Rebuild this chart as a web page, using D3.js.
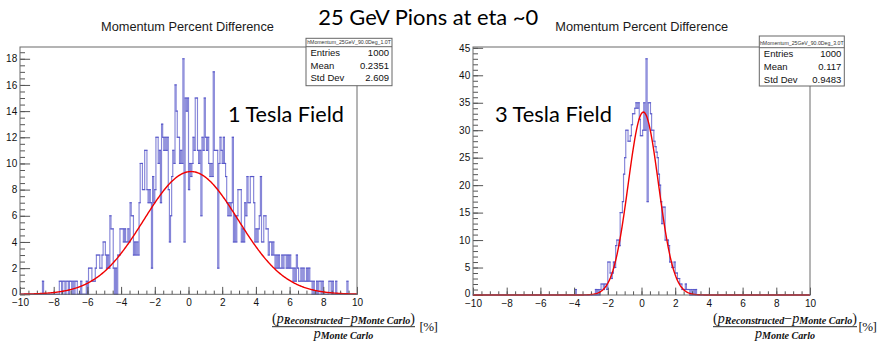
<!DOCTYPE html>
<html>
<head>
<meta charset="utf-8">
<script src="https://cdn.jsdelivr.net/npm/d3@7"></script>
<style>
  html, body { margin: 0; padding: 0; background: #fff; }
  svg { display: block; }
</style>
</head>
<body>
<svg id="chart" width="877" height="341"></svg>
<script>
// ---- data -------------------------------------------------------------
const binCount = 300;
const xDomain = [-10, 10];
const xTickValues = [-10, -8, -6, -4, -2, 0, 2, 4, 6, 8, 10];
const leftYTicks = [0, 2, 4, 6, 8, 10, 12, 14, 16, 18];
const rightYTicks = [0, 5, 10, 15, 20, 25, 30, 35, 40, 45];

// 1 T field, 300 bins over [-10, 10]
const leftCounts = [
  0,0,0,0,0,0,0,0,0,0, 0,0,0,0,0,0,0,0,0,0,
  1,0,0,0,0,0,0,0,0,0, 0,0,0,0,0,1,1,0,1,1,
  0,1,1,0,1,1,0,1,0,1, 1,0,0,0,1,0,0,0,0,1,
  0,2,2,2,1,1,1,2,3,3, 3,2,2,3,4,4,3,2,3,2,
  6,5,5,2,0,2,0,3,3,5, 5,5,4,5,4,4,5,4,7,6,
  6,3,4,3,4,3,7,10,10,8, 8,11,11,8,7,8,7,2,9,7,
  8,12,12,10,11,7,13,12,11,12, 11,12,8,4,6,9,11,10,16,14,
  12,12,10,11,10,18,4,15,14,15, 8,10,9,10,12,11,15,15,11,10,
  11,6,12,11,15,12,11,12,10,9, 10,9,17,11,11,11,2,10,12,11,
  10,12,10,9,7,6,7,6,7,12, 4,6,4,6,8,8,8,4,5,4,
  7,6,9,7,7,9,9,9,7,4, 5,4,5,6,9,4,4,6,6,5,
  5,3,4,4,3,4,3,2,3,2, 3,2,2,3,2,3,3,2,3,2,
  3,2,2,1,2,1,3,2,1,1, 2,1,2,1,1,2,1,2,1,1,
  0,1,0,0,1,0,1,1,0,1, 0,0,0,0,0,1,1,0,1,0,
  0,1,0,0,0,0,0,0,0,0, 0,1,0,0,0,0,0,0,0,0
];

// 3 T field, 300 bins over [-10, 10]
const rightCounts = [
  0,0,0,0,0,0,0,0,0,0, 0,0,0,0,0,0,0,0,0,0,
  0,0,0,0,0,0,0,0,0,0, 0,0,0,0,0,0,0,0,0,0,
  0,0,0,0,0,0,0,0,0,0, 0,0,0,0,0,0,0,0,0,0,
  0,0,0,0,0,0,0,0,0,0, 0,0,0,0,0,0,0,0,0,0,
  0,0,0,0,0,0,0,0,0,0, 0,1,0,0,0,0,0,0,0,0,
  0,0,0,0,0,0,0,0,0,1, 0,1,0,1,2,2,1,2,2,1,
  6,6,4,3,4,6,5,9,10,10, 9,15,15,17,22,25,30,30,28,28,
  29,31,33,33,34,35,34,35,32,29, 29,30,35,30,43,17,35,35,33,30,
  30,28,27,26,25,22,20,17,13,16, 16,10,10,10,9,6,6,5,5,6,
  4,4,3,3,2,2,1,1,1,2, 1,1,1,0,1,0,1,0,1,0,
  0,0,0,0,0,0,0,0,0,0, 0,0,0,0,0,0,0,0,0,0,
  0,0,0,0,0,0,0,0,0,0, 0,0,0,0,0,0,0,0,0,0,
  0,0,0,0,0,0,0,0,0,0, 0,0,0,0,0,0,0,0,0,0,
  0,0,0,0,0,0,0,0,0,0, 0,0,0,0,0,0,0,0,0,0,
  0,0,0,0,0,0,0,0,0,0, 0,0,0,0,0,0,0,0,0,0
];

// Gaussian fit parameters: constant, mean, sigma
const leftFit = [9.38, 0.15, 2.8];
const rightFit = [33.3, 0.11, 0.9];

const statLabels = ["Entries", "Mean", "Std Dev"];
const leftStats = ["1000", "0.2351", "2.609"];
const rightStats = ["1000", "0.117", "0.9483"];
const histNames = ["hMomentum_25GeV_90.0Deg_1.0T", "hMomentum_25GeV_90.0Deg_3.0T"];
const histTitle = "Momentum Percent Difference";
const pageTitle = "25 GeV Pions at eta ~0";
const fieldLabels = ["1 Tesla Field", "3 Tesla Field"];

// ---- layout -----------------------------------------------------------
const svg = d3.select("#chart");
const rootFont = "'Liberation Sans', Arial, sans-serif";
const slideFont = "Lato, 'Open Sans', sans-serif";
const mathFont = "'Liberation Serif', 'DejaVu Serif', serif";

const panels = [
  {
    counts: leftCounts, fit: leftFit, stats: leftStats, name: histNames[0], field: fieldLabels[0],
    frame: { x0: 20, x1: 357, y0: 47, y1: 294.3 }, yMax: 18.9, yTicks: leftYTicks, yMinorStep: 0.5,
    box: { x: 306, y: 38.3, w: 86, sep: 46.7, h: 47.4, rows: [56, 68.8, 81.2] },
    titleX: 187.5, fieldX: 228, fieldY: 122.3, fieldW: 116,
    xlab: { x0: 272, x1: 415, pctX: 419.5 }
  },
  {
    counts: rightCounts, fit: rightFit, stats: rightStats, name: histNames[1], field: fieldLabels[1],
    frame: { x0: 473, x1: 810, y0: 47, y1: 295 }, yMax: 45.15, yTicks: rightYTicks, yMinorStep: 1,
    box: { x: 759.3, y: 36, w: 85, sep: 47.7, h: 50, rows: [56.7, 70, 82.7] },
    titleX: 641.7, fieldX: 495, fieldY: 121.5, fieldW: 117,
    xlab: { x0: 713, x1: 857, pctX: 858.5 }
  }
];

function fitTextWidth(sel, target) {
  const w = sel.node().getComputedTextLength();
  const fs = parseFloat(sel.attr("font-size"));
  sel.attr("font-size", fs * target / w);
}

panels.forEach(p => {
  const g = svg.append("g");
  const f = p.frame;
  const x = d3.scaleLinear().domain(xDomain).range([f.x0, f.x1]);
  const y = d3.scaleLinear().domain([0, p.yMax]).range([f.y1, f.y0]);
  const bw = (xDomain[1] - xDomain[0]) / binCount;

  // histogram outline, drawn as individual step segments so that
  // closely spaced edges build up a darker stroke
  const segs = [];
  let prev = 0;
  p.counts.forEach((c, i) => {
    const lo = xDomain[0] + i * bw;
    segs.push([[lo, prev], [lo, c]]);
    segs.push([[lo, c], [lo + bw, c]]);
    prev = c;
  });
  segs.push([[xDomain[1], prev], [xDomain[1], 0]]);
  g.append("g").selectAll("line")
    .data(segs.filter(s => !(s[0][0] === s[1][0] && s[0][1] === s[1][1])))
    .join("line")
    .attr("x1", d => x(d[0][0])).attr("y1", d => y(d[0][1]))
    .attr("x2", d => x(d[1][0])).attr("y2", d => y(d[1][1]))
    .attr("stroke", "#3a3ac0")
    .attr("stroke-opacity", 0.62)
    .attr("stroke-width", 1.15)
    .attr("stroke-linecap", "square");

  // axes with inward ticks
  const minorX = d3.range(xDomain[0], xDomain[1] + 0.001, 0.5);
  const minorY = d3.range(0, p.yMax, p.yMinorStep);

  const xMinor = g.append("g").attr("transform", `translate(0,${f.y1})`)
    .call(d3.axisBottom(x).tickValues(minorX).tickSize(-3.7).tickFormat(""));
  const xMajor = g.append("g").attr("transform", `translate(0,${f.y1})`)
    .call(d3.axisBottom(x).tickValues(xTickValues).tickSize(-7.4).tickPadding(4.6).tickFormat(d3.format("d")));
  const yMinor = g.append("g").attr("transform", `translate(${f.x0},0)`)
    .call(d3.axisLeft(y).tickValues(minorY).tickSize(-5).tickFormat(""));
  const yMajor = g.append("g").attr("transform", `translate(${f.x0},0)`)
    .call(d3.axisLeft(y).tickValues(p.yTicks).tickSize(-10.1).tickPadding(2.8).tickFormat(d3.format("d")));

  [xMinor, xMajor, yMinor, yMajor].forEach(a => {
    a.select(".domain").remove();
    a.selectAll(".tick line").attr("stroke", "#555").attr("stroke-width", 1);
    a.selectAll(".tick text")
      .attr("font-family", rootFont).attr("font-size", 10).attr("fill", "#111");
  });
  // keep the zero label of the y axis clear of the x labels
  yMajor.selectAll(".tick text").filter(d => d === 0).attr("dy", "0.1em");

  // fitted gaussian
  const fx = d3.range(0, 401).map(k => xDomain[0] + k * (xDomain[1] - xDomain[0]) / 400);
  const [c0, mu, sg] = p.fit;
  g.append("path")
    .attr("d", d3.line().x(v => x(v)).y(v => y(c0 * Math.exp(-0.5 * ((v - mu) / sg) ** 2)))(fx))
    .attr("fill", "none")
    .attr("stroke", "#f00000")
    .attr("stroke-width", 1.4);

  // frame
  g.append("rect")
    .attr("x", f.x0).attr("y", f.y0)
    .attr("width", f.x1 - f.x0).attr("height", f.y1 - f.y0)
    .attr("fill", "none").attr("stroke", "#6a6a6a").attr("stroke-width", 1);

  // histogram title
  const ht = g.append("text")
    .attr("x", p.titleX).attr("y", 31.3)
    .attr("text-anchor", "middle")
    .attr("font-family", rootFont).attr("font-size", 12).attr("fill", "#1a1a1a")
    .text(histTitle);
  fitTextWidth(ht, 173);

  // statistics box
  const b = p.box;
  g.append("rect")
    .attr("x", b.x).attr("y", b.y).attr("width", b.w).attr("height", b.h)
    .attr("fill", "#fff").attr("stroke", "#666").attr("stroke-width", 1);
  g.append("line")
    .attr("x1", b.x).attr("x2", b.x + b.w).attr("y1", b.sep).attr("y2", b.sep)
    .attr("stroke", "#666").attr("stroke-width", 1);
  g.append("text")
    .attr("x", b.x + b.w / 2).attr("y", b.sep - 2.6)
    .attr("text-anchor", "middle")
    .attr("font-family", rootFont).attr("font-size", 5.2).attr("fill", "#333")
    .text(p.name);
  statLabels.forEach((lab, i) => {
    g.append("text")
      .attr("x", b.x + 4.5).attr("y", b.rows[i])
      .attr("font-family", rootFont).attr("font-size", 9.5).attr("fill", "#111")
      .text(lab);
    g.append("text")
      .attr("x", b.x + b.w - 3).attr("y", b.rows[i])
      .attr("text-anchor", "end")
      .attr("font-family", rootFont).attr("font-size", 9.5).attr("fill", "#111")
      .text(p.stats[i]);
  });

  // field annotation
  const fl = g.append("text")
    .attr("x", p.fieldX).attr("y", p.fieldY)
    .attr("font-family", slideFont).attr("font-size", 20).attr("fill", "#000")
    .text(p.field);
  fitTextWidth(fl, p.fieldW);

  // x-axis title: (p_Reco - p_MC) / p_MC [%]
  const L = p.xlab;
  const cx = (L.x0 + L.x1) / 2;
  const num = g.append("text")
    .attr("x", cx).attr("y", 322.5)
    .attr("text-anchor", "middle")
    .attr("font-family", mathFont).attr("font-size", 12).attr("fill", "#111");
  num.append("tspan").attr("font-style", "normal").text("(");
  num.append("tspan").attr("font-style", "italic").text("p");
  num.append("tspan").attr("font-style", "italic").attr("font-weight", "bold")
    .attr("font-size", 8.6).attr("dy", 1.6).text("Reconstructed");
  num.append("tspan").attr("dy", -1.6).text("\u2212");
  num.append("tspan").attr("font-style", "italic").text("p");
  num.append("tspan").attr("font-style", "italic").attr("font-weight", "bold")
    .attr("font-size", 8.6).attr("dy", 1.6).text("Monte Carlo");
  num.append("tspan").attr("dy", -1.6).text(")");
  const nw = num.node().getComputedTextLength();
  const k = (L.x1 - L.x0) / nw;
  num.attr("font-size", 12 * k);
  num.selectAll("tspan").filter(function () { return this.getAttribute("font-size"); })
    .attr("font-size", 8.6 * k);

  g.append("line")
    .attr("x1", L.x0).attr("x2", L.x1).attr("y1", 326.7).attr("y2", 326.7)
    .attr("stroke", "#111").attr("stroke-width", 0.9);

  const den = g.append("text")
    .attr("x", cx).attr("y", 337.6)
    .attr("text-anchor", "middle")
    .attr("font-family", mathFont).attr("font-size", 12 * k).attr("fill", "#111");
  den.append("tspan").attr("font-style", "italic").text("p");
  den.append("tspan").attr("font-style", "italic").attr("font-weight", "bold")
    .attr("font-size", 8.6 * k).attr("dy", 1.6).text("Monte Carlo");

  g.append("text")
    .attr("x", L.pctX).attr("y", 331)
    .attr("font-family", mathFont).attr("font-size", 13).attr("letter-spacing", -0.6)
    .attr("fill", "#111")
    .text("[%]");
});

// slide heading
const head = svg.append("text")
  .attr("x", 318.3).attr("y", 25)
  .attr("font-family", slideFont).attr("font-size", 20).attr("fill", "#000")
  .text(pageTitle);
fitTextWidth(head, 220);
</script>
</body>
</html>
